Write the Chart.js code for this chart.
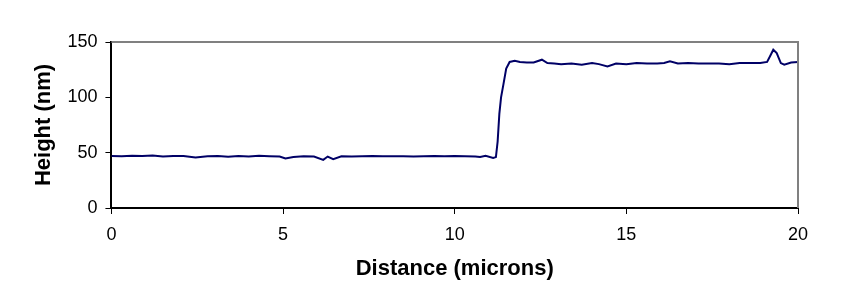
<!DOCTYPE html>
<html lang="en">
<head>
    <meta charset="UTF-8">
    <title>Height profile</title>
    <script src="https://cdn.jsdelivr.net/npm/chart.js"></script>
    <style>
        body { margin: 0; background: #fff; }
        #wrap { width: 855px; height: 306px; }
    </style>
</head>
<body>
<div id="wrap"><canvas id="profileChart" width="855" height="306"></canvas></div>
<script>
    // distance along the scan (microns) and measured height (nm)
    const distance = [0, 0.3, 0.6, 0.9, 1.2, 1.5, 1.8, 2.1, 2.45, 2.8, 3.1, 3.4, 3.7, 4.0, 4.3, 4.6, 4.9, 5.07, 5.3, 5.6,
        5.9, 6.17, 6.3, 6.46, 6.7, 7.0, 7.3, 7.6, 7.9, 8.2, 8.5, 8.8, 9.1, 9.4, 9.7, 10.0, 10.3, 10.6, 10.74, 10.9,
        11.12, 11.2, 11.25, 11.3, 11.35, 11.42, 11.5, 11.6, 11.75, 11.9, 12.1, 12.3, 12.54, 12.7, 12.9, 13.1, 13.4, 13.7,
        14.0, 14.2, 14.45, 14.7, 15.0, 15.3, 15.6, 15.9, 16.1, 16.27, 16.5, 16.8, 17.1, 17.4, 17.7, 18.0, 18.3, 18.6,
        18.9, 19.1, 19.2, 19.28, 19.38, 19.5, 19.6, 19.8, 20.0];
    const height = [47, 46.8, 47.3, 47, 47.5, 46.6, 47, 47, 45.6, 46.8, 46.9, 46.2, 46.9, 46.6, 47.2, 46.8, 46.6, 44.8, 46, 46.7,
        46.5, 43.5, 46.5, 44.2, 46.8, 46.6, 46.8, 47, 46.7, 46.8, 46.8, 46.6, 46.7, 47, 46.7, 47, 46.8, 46.6, 46, 47.2,
        45.2, 46, 60, 85, 100, 112, 126, 132, 133, 132, 131.5, 131.5, 134, 131, 130.5, 130, 130.5, 129.5,
        131, 130, 128, 130.5, 130, 131, 130.5, 130.5, 131, 132.5, 130.5, 131, 130.5, 130.5, 130.5, 130, 131, 131,
        131, 132, 138, 143, 140, 131, 129.5, 131.5, 132];
    const xTicks = [0, 5, 10, 15, 20];
    const yTicks = [0, 50, 100, 150];

    const points = distance.map((d, i) => ({ x: d, y: height[i] }));

    // grey top and right frame, like the original plot box
    const frame = {
        id: 'frame',
        afterDatasetsDraw(chart) {
            const a = chart.chartArea, c = chart.ctx;
            c.save();
            c.strokeStyle = '#808080';
            c.lineWidth = 2;
            c.beginPath();
            c.moveTo(a.left, a.top);
            c.lineTo(a.right, a.top);
            c.lineTo(a.right, a.bottom);
            c.stroke();
            c.restore();
        }
    };

    const tickFont = { family: 'Liberation Sans', size: 18 };
    const titleFont = { family: 'Liberation Sans', size: 22, weight: 'bold' };

    new Chart(document.getElementById('profileChart'), {
        type: 'line',
        data: {
            datasets: [{
                data: points,
                borderColor: '#000066',
                borderWidth: 2,
                pointRadius: 0,
                tension: 0
            }]
        },
        options: {
            responsive: false,
            animation: false,
            layout: { padding: { left: 31, right: 57, top: 42, bottom: 8 } },
            plugins: { legend: { display: false }, tooltip: { enabled: false } },
            scales: {
                x: {
                    type: 'linear',
                    min: 0, max: 20,
                    afterBuildTicks: s => { s.ticks = xTicks.map(v => ({ value: v })); },
                    ticks: { color: '#000', font: tickFont, padding: 10, maxRotation: 0 },
                    grid: { drawOnChartArea: false, color: '#000', tickLength: 6, tickWidth: 1 },
                    border: { color: '#000', width: 2 },
                    title: { display: true, text: 'Distance (microns)', color: '#000', font: titleFont, padding: { top: 0, bottom: 16 } }
                },
                y: {
                    min: 0, max: 150,
                    afterBuildTicks: s => { s.ticks = yTicks.map(v => ({ value: v })); },
                    ticks: { color: '#000', font: tickFont, padding: 8 },
                    grid: { drawOnChartArea: false, color: '#000', tickLength: 6, tickWidth: 1 },
                    border: { color: '#000', width: 2 },
                    title: { display: true, text: 'Height (nm)', color: '#000', font: titleFont, padding: { top: 0, bottom: 2 } }
                }
            }
        },
        plugins: [frame]
    });
</script>
</body>
</html>
